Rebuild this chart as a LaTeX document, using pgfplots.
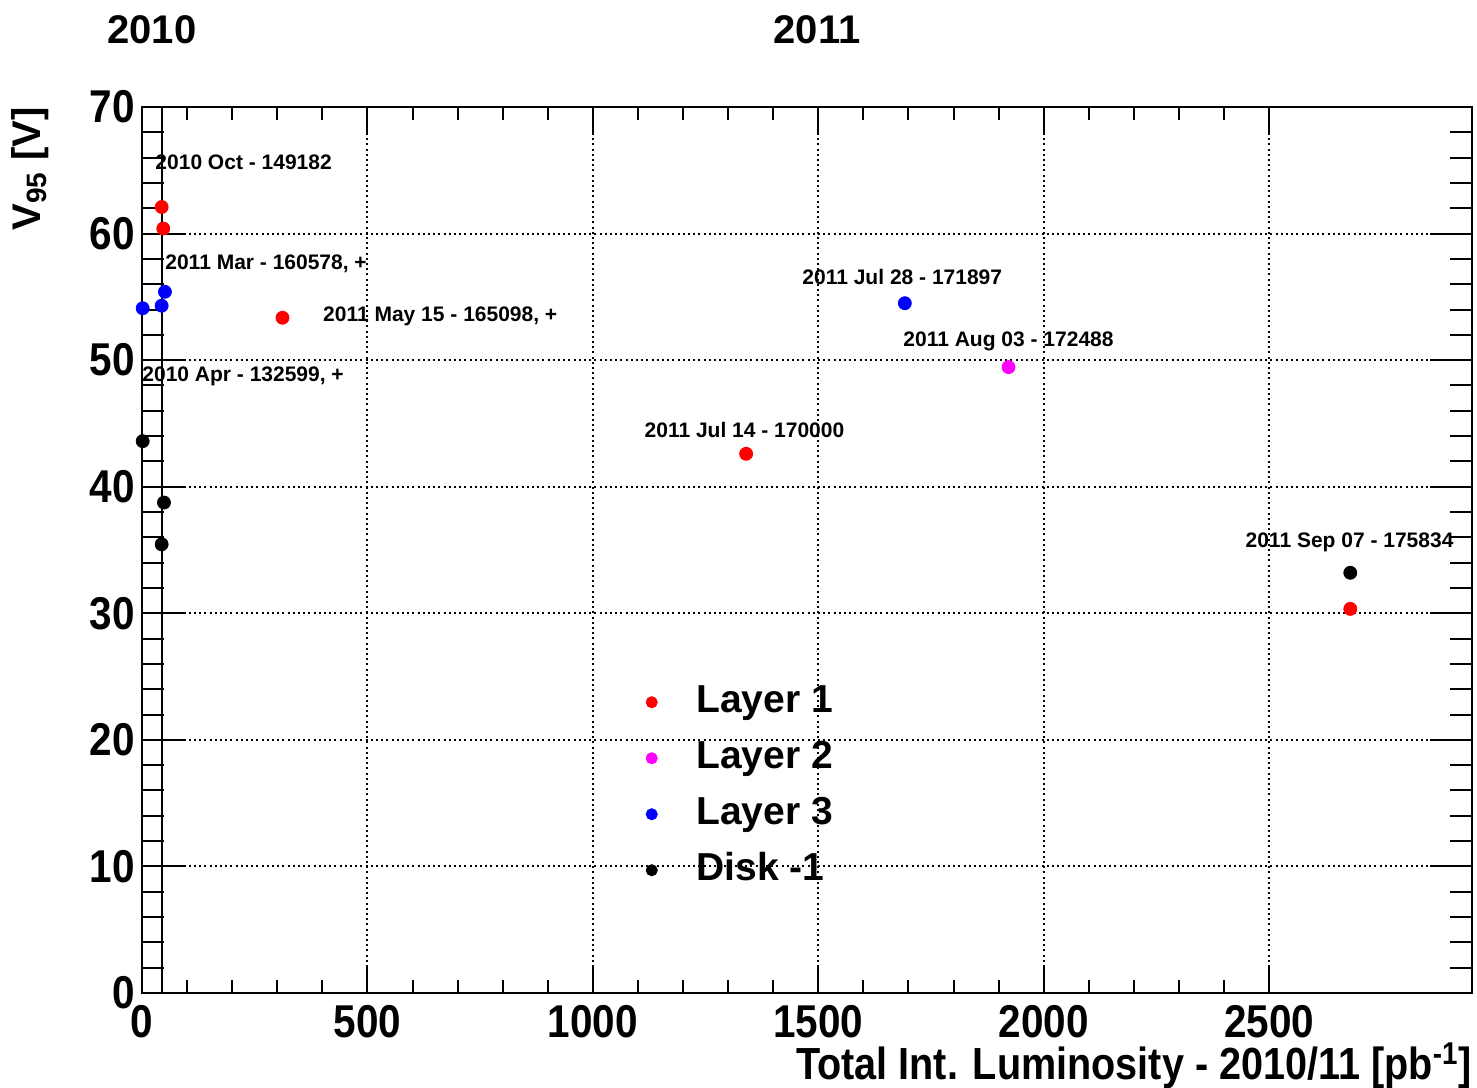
\documentclass[border=0pt]{standalone}
\usepackage{pgfplots}
\pgfplotsset{compat=1.18}
\usepackage{fontspec}
\setmainfont{Liberation Sans}
\newfontfamily\narrowfont[FakeStretch=0.88]{Liberation Sans}

\definecolor{rootred}{RGB}{255,0,0}
\definecolor{rootmagenta}{RGB}{255,0,255}
\definecolor{rootblue}{RGB}{0,0,255}

\begin{document}
\begin{tikzpicture}
\pgfplotsset{
  frame/.style={
    scale only axis, width=665pt, height=443pt,
    xmin=0, xmax=2950, ymin=0, ymax=70,
    axis line style={line width=1pt},
    tick align=inside,
    every tick/.style={black, line width=1pt},
    major grid style={black, line width=1pt, dash pattern=on 1pt off 1.6pt},
    /pgf/number format/assume math mode=true,
    /pgf/number format/1000 sep={},
  },
  datamark/.style={only marks, mark=*, mark size=3.25pt, mark options={draw=#1, fill=#1}, color=#1},
}
% x ticks, labels and vertical grid
\begin{axis}[frame,
  xtick={0,500,...,2500}, minor x tick num=4,
  ytick=\empty,
  major tick length=13pt, minor tick length=6.5pt,
  xmajorgrids,
  xtick pos=both, xticklabel pos=lower,
  xticklabel style={font=\narrowfont\bfseries\fontsize{23}{23}\selectfont, inner sep=0pt, yshift=-6pt},
  xlabel={Total Int. Luminosity - 2010/11 [pb\textsuperscript{-1}]},
  xlabel style={font=\narrowfont\bfseries\fontsize{22.5}{22.5}\selectfont, at={(axis description cs:1,-0.056)}, anchor=north east, inner sep=0pt},
]
\end{axis}
% y ticks, horizontal grid and the measurements
\begin{axis}[frame,
  clip=false,
  xtick=\empty,
  ytick={0,10,...,70}, minor y tick num=4,
  major tick length=21pt, minor tick length=11pt,
  ymajorgrids,
  ytick pos=both, yticklabel pos=left,
  yticklabel style={font=\narrowfont\bfseries\fontsize{23}{23}\selectfont, inner sep=0pt, xshift=-3.5pt},
  ylabel={V\textsubscript{95} [V]},
  ylabel style={font=\bfseries\fontsize{20}{20}\selectfont, at={(axis description cs:-0.084,1)}, anchor=east, inner sep=0pt},
  legend cell align=left,
  legend image code/.code={\draw[#1, mark size=2.8pt] plot coordinates {(0cm,0cm)};},
  legend style={draw=none, fill=none, at={(axis cs:1104,24.9)}, anchor=north west,
    font=\bfseries\fontsize{19.5}{19.5}\selectfont, row sep=8pt, column sep=18.5pt,
    nodes={inner sep=1pt, text height=14pt, text depth=4pt}},
]
% end of the 2010 run
\addplot[black, line width=1pt, forget plot] coordinates {(43.6,0) (43.6,70)};

\addplot[datamark=rootred] coordinates {
  (43.6,62.1) (47.2,60.4) (311.6,53.35) (1340,42.6) (2680,30.35)
};
\addlegendentry{Layer 1}
\addplot[datamark=rootmagenta] coordinates {
  (1922,49.45)
};
\addlegendentry{Layer 2}
\addplot[datamark=rootblue] coordinates {
  (1.5,54.1) (43.6,54.3) (50.9,55.4) (1692,54.5)
};
\addlegendentry{Layer 3}
\addplot[datamark=black] coordinates {
  (1.5,43.6) (48.7,38.75) (43.6,35.45) (2680,33.2)
};
\addlegendentry{Disk -1}

% run annotations
\begin{scope}[every node/.style={font=\bfseries\fontsize{10.5}{10.5}\selectfont, anchor=west, inner sep=0pt}]
\node at (axis cs:29,65.6) {2010 Oct - 149182};
\node at (axis cs:51,57.6) {2011 Mar - 160578, +};
\node at (axis cs:401,53.5) {2011 May 15 - 165098, +};
\node at (axis cs:0,48.7) {2010 Apr - 132599, +};
\node at (axis cs:1114,44.5) {2011 Jul 14 - 170000};
\node at (axis cs:1464,56.6) {2011 Jul 28 - 171897};
\node at (axis cs:1688,51.5) {2011 Aug 03 - 172488};
\node at (axis cs:2447,35.6) {2011 Sep 07 - 175834};
\end{scope}

% year markers above the frame
\node[font=\bfseries\fontsize{20}{20}\selectfont, yshift=38.5pt] at (axis cs:22,70) {2010};
\node[font=\bfseries\fontsize{20}{20}\selectfont, yshift=38.5pt] at (axis cs:1497,70) {2011};
\end{axis}
\pgfresetboundingbox
\useasboundingbox (-71pt,-47pt) rectangle (667.5pt,496.5pt);
\end{tikzpicture}
\end{document}
